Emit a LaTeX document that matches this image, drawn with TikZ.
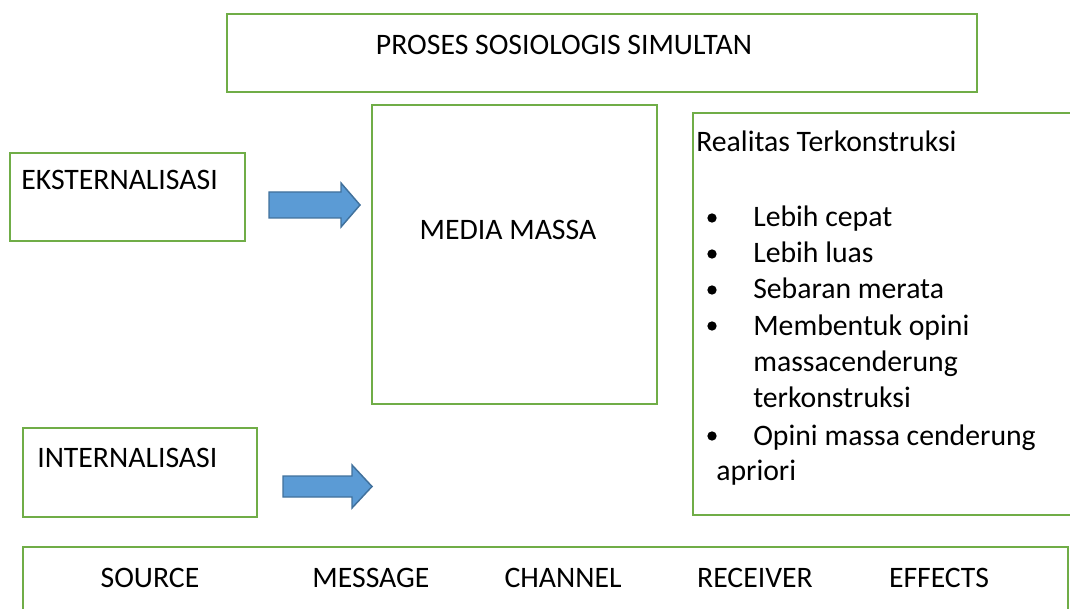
\documentclass[tikz,border=0pt]{standalone}
\usepackage{fontspec}
\setmainfont{Carlito}
\definecolor{boxgreen}{HTML}{70AD47}
\definecolor{arrowfill}{HTML}{5B9BD5}
\definecolor{arrowline}{HTML}{41719C}
\begin{document}
\begin{tikzpicture}[x=0.75pt,y=-0.75pt,
  box/.style={draw=boxgreen, line width=1.6pt, rectangle, inner sep=0pt},
  lbl/.style={inner sep=0pt, anchor=base west, font=\fontsize{22.3}{27}\selectfont},
  clbl/.style={inner sep=0pt, anchor=base, font=\fontsize{22.3}{27}\selectfont},
  dot/.style={circle, fill=black, inner sep=0pt, minimum size=7pt},
  blockarrow/.style={draw=arrowline, fill=arrowfill, line width=1.1pt, line join=miter}]
\useasboundingbox (0,0) rectangle (1070,609);
\clip (0,0) rectangle (1070,609);
% boxes
\node[box, minimum width=562.5pt, minimum height=58.5pt] (top) at (602,53) {};
\node[box, minimum width=176.25pt, minimum height=66pt] (eks) at (127.5,197) {};
\node[box, minimum width=175.5pt, minimum height=66.75pt] (int) at (140,472.5) {};
\node[box, minimum width=213.75pt, minimum height=224.25pt] (media) at (514.5,254.5) {};
\node[box, minimum width=290.25pt, minimum height=301.5pt] (real) at (886.5,314) {};
\node[box, minimum width=783.75pt, minimum height=69.75pt] (bottom) at (545.5,593.5) {};
% texts
\node[clbl] (tproses) at (564,55) {PROSES SOSIOLOGIS SIMULTAN};
\node[lbl] (teks) at (21,190) {EKSTERNALISASI};
\node[lbl] (tint) at (37,467) {INTERNALISASI};
\node[clbl] (tmedia) at (508,240) {MEDIA MASSA};
\node[lbl] (treal) at (696,152) {Realitas Terkonstruksi};
\node[dot] (d1) at (712,218) {};
\node[lbl] (l1) at (753,227) {Lebih cepat};
\node[dot] (d2) at (712,254) {};
\node[lbl] (l2) at (753,263) {Lebih luas};
\node[dot] (d3) at (712,290) {};
\node[lbl] (l3) at (753,299) {Sebaran merata};
\node[dot] (d4) at (712,326) {};
\node[lbl] (l4a) at (753,335) {Membentuk opini};
\node[lbl] (l4b) at (753,372) {massacenderung};
\node[lbl] (l4c) at (753,407) {terkonstruksi};
\node[dot] (d5) at (712,436) {};
\node[lbl] (l5a) at (753,445) {Opini massa cenderung};
\node[lbl] (l5b) at (716,480) {apriori};
\node[clbl] (s1) at (150,587) {SOURCE};
\node[clbl] (s2) at (371,587) {MESSAGE};
\node[clbl] (s3) at (563,587) {CHANNEL};
\node[clbl] (s4) at (755,587) {RECEIVER};
\node[clbl] (s5) at (939,587) {EFFECTS};
% block arrows
\coordinate (a1) at (269,205);
\coordinate (a2) at (283,486.5);
\draw[blockarrow] (a1) ++(0,-13) -- ++(72,0) -- ++(0,-9) -- ++(19,22) -- ++(-19,22) -- ++(0,-9) -- ++(-72,0) -- cycle;
\draw[blockarrow] (a2) ++(0,-10.5) -- ++(69,0) -- ++(0,-11) -- ++(20,21.5) -- ++(-20,21.5) -- ++(0,-11) -- ++(-69,0) -- cycle;
\end{tikzpicture}
\end{document}
